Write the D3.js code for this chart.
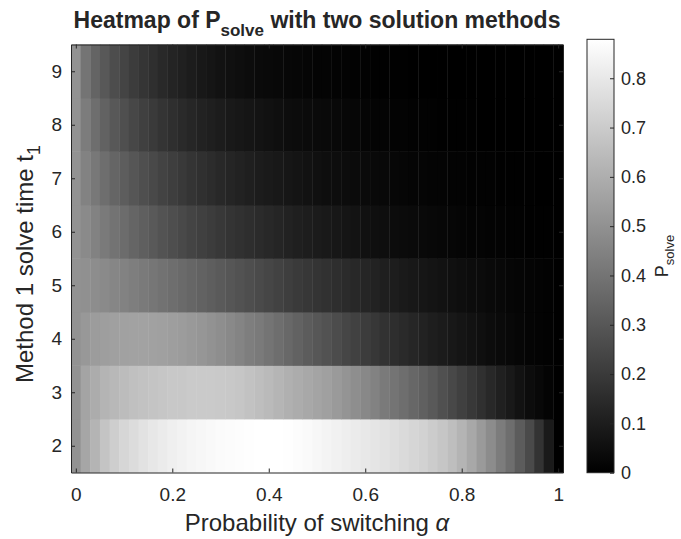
<!DOCTYPE html>
<html>
<head>
<meta charset="utf-8">
<script src="https://cdn.jsdelivr.net/npm/d3@7"></script>
<style>
  body { margin: 0; background: #fff; }
  svg text { font-family: "Liberation Sans", Arial, Helvetica, sans-serif; fill: #262626; }
</style>
</head>
<body>
<div id="chart"></div>
<script>
// switching probability (columns) and method 1 solve time (rows)
const alphaValues = [0, 0.02, 0.04, 0.06, 0.08, 0.1, 0.12, 0.14, 0.16, 0.18,
    0.2, 0.22, 0.24, 0.26, 0.28, 0.3, 0.32, 0.34, 0.36, 0.38,
    0.4, 0.42, 0.44, 0.46, 0.48, 0.5, 0.52, 0.54, 0.56, 0.58,
    0.6, 0.62, 0.64, 0.66, 0.68, 0.7, 0.72, 0.74, 0.76, 0.78,
    0.8, 0.82, 0.84, 0.86, 0.88, 0.9, 0.92, 0.94, 0.96, 0.98, 1];
const solveTimes = [2, 3, 4, 5, 6, 7, 8, 9];

// P_solve for each t1, one value per alpha
const pSolveT2 = [0.503, 0.572, 0.620, 0.676, 0.710, 0.738, 0.758, 0.779, 0.796, 0.810,
    0.824, 0.834, 0.845, 0.851, 0.858, 0.865, 0.869, 0.872, 0.876, 0.879,
    0.879, 0.879, 0.876, 0.869, 0.862, 0.851, 0.841, 0.831, 0.820, 0.810,
    0.800, 0.789, 0.779, 0.765, 0.751, 0.738, 0.724, 0.703, 0.683, 0.655,
    0.620, 0.579, 0.531, 0.483, 0.427, 0.379, 0.317, 0.255, 0.176, 0.090, 0];
const pSolveT3 = [0.503, 0.565, 0.593, 0.620, 0.634, 0.648, 0.662, 0.669, 0.676, 0.683,
    0.689, 0.689, 0.696, 0.696, 0.696, 0.693, 0.689, 0.683, 0.669, 0.655,
    0.641, 0.624, 0.607, 0.593, 0.579, 0.565, 0.552, 0.531, 0.510, 0.489,
    0.469, 0.448, 0.421, 0.400, 0.379, 0.355, 0.331, 0.307, 0.276, 0.248,
    0.221, 0.193, 0.165, 0.138, 0.110, 0.086, 0.062, 0.041, 0.028, 0.014, 0];
const pSolveT4 = [0.503, 0.524, 0.538, 0.545, 0.552, 0.555, 0.558, 0.558, 0.555, 0.552,
    0.545, 0.538, 0.527, 0.517, 0.503, 0.489, 0.472, 0.455, 0.434, 0.421,
    0.400, 0.379, 0.358, 0.338, 0.317, 0.300, 0.283, 0.262, 0.241, 0.224,
    0.207, 0.190, 0.172, 0.159, 0.145, 0.131, 0.117, 0.103, 0.093, 0.083,
    0.072, 0.062, 0.052, 0.041, 0.034, 0.028, 0.021, 0.014, 0.010, 0.007, 0];
const pSolveT5 = [0.503, 0.496, 0.486, 0.476, 0.462, 0.448, 0.434, 0.421, 0.407, 0.393,
    0.379, 0.365, 0.352, 0.338, 0.324, 0.310, 0.296, 0.283, 0.269, 0.255,
    0.241, 0.228, 0.214, 0.200, 0.190, 0.179, 0.169, 0.159, 0.148, 0.138,
    0.128, 0.117, 0.107, 0.100, 0.090, 0.083, 0.076, 0.069, 0.062, 0.055,
    0.048, 0.041, 0.038, 0.031, 0.028, 0.021, 0.017, 0.014, 0.010, 0.007, 0];
const pSolveT6 = [0.503, 0.476, 0.448, 0.421, 0.396, 0.372, 0.348, 0.327, 0.307, 0.286,
    0.269, 0.252, 0.234, 0.221, 0.207, 0.193, 0.179, 0.169, 0.159, 0.148,
    0.138, 0.128, 0.117, 0.107, 0.100, 0.093, 0.086, 0.079, 0.072, 0.065,
    0.059, 0.052, 0.048, 0.041, 0.038, 0.034, 0.031, 0.028, 0.024, 0.021,
    0.017, 0.014, 0.014, 0.010, 0.010, 0.007, 0.007, 0.003, 0.003, 0.003, 0];
const pSolveT7 = [0.503, 0.448, 0.414, 0.379, 0.348, 0.321, 0.296, 0.272, 0.252, 0.231,
    0.214, 0.196, 0.179, 0.165, 0.152, 0.138, 0.128, 0.117, 0.107, 0.097,
    0.090, 0.083, 0.076, 0.069, 0.062, 0.055, 0.048, 0.045, 0.041, 0.038,
    0.034, 0.031, 0.028, 0.024, 0.021, 0.017, 0.017, 0.014, 0.014, 0.010,
    0.010, 0.007, 0.007, 0.007, 0.003, 0.003, 0.003, 0.003, 0, 0, 0];
const pSolveT8 = [0.503, 0.427, 0.379, 0.338, 0.303, 0.272, 0.245, 0.221, 0.200, 0.179,
    0.162, 0.145, 0.131, 0.117, 0.107, 0.097, 0.086, 0.079, 0.072, 0.065,
    0.059, 0.052, 0.045, 0.041, 0.038, 0.034, 0.031, 0.028, 0.024, 0.021,
    0.017, 0.014, 0.014, 0.010, 0.010, 0.007, 0.007, 0.007, 0.003, 0.003,
    0.003, 0.003, 0, 0, 0, 0, 0, 0, 0, 0, 0];
const pSolveT9 = [0.503, 0.400, 0.345, 0.303, 0.265, 0.234, 0.207, 0.183, 0.162, 0.141,
    0.124, 0.110, 0.097, 0.083, 0.072, 0.062, 0.055, 0.048, 0.041, 0.034,
    0.031, 0.028, 0.024, 0.021, 0.017, 0.014, 0.014, 0.010, 0.010, 0.007,
    0.007, 0.003, 0.003, 0.003, 0.003, 0, 0, 0, 0, 0,
    0, 0, 0, 0, 0, 0, 0, 0, 0, 0, 0];

const xTicks = [0, 0.2, 0.4, 0.6, 0.8, 1];
const yTicks = [2, 3, 4, 5, 6, 7, 8, 9];
const colorbarTicks = [0, 0.1, 0.2, 0.3, 0.4, 0.5, 0.6, 0.7, 0.8];
const colorLimits = [0, 0.879];

class PSolveHeatmap {
    constructor(containerID, width, height) {
        this.containerID = containerID;
        this.width = width;
        this.height = height;
        this.rows = [pSolveT2, pSolveT3, pSolveT4, pSolveT5, pSolveT6, pSolveT7, pSolveT8, pSolveT9];

        this.initVis();
    }

    initVis() {
        let vis = this;

        vis.plot = { left: 71, right: 563, top: 44.5, bottom: 472.5 };
        vis.bar = { left: 587, right: 614, top: 39.3, bottom: 472.7 };

        vis.svg = d3.select(vis.containerID)
            .append('svg')
            .attr('width', vis.width)
            .attr('height', vis.height);

        // half a cell of padding on each side, like imagesc
        vis.xScale = d3.scaleLinear()
            .domain([-0.01, 1.01])
            .range([vis.plot.left, vis.plot.right]);

        vis.yScale = d3.scaleLinear()
            .domain([1.5, 9.5])
            .range([vis.plot.bottom, vis.plot.top]);

        vis.colorScale = d3.scaleLinear()
            .domain(colorLimits)
            .range(['#000000', '#ffffff'])
            .clamp(true);

        vis.updateVis();
    }

    updateVis() {
        let vis = this;

        let cells = [];
        vis.rows.forEach((row, i) => {
            row.forEach((p, j) => {
                cells.push({ t: solveTimes[i], alpha: alphaValues[j], p: p });
            });
        });

        // Draw cells
        vis.svg.append('g')
            .selectAll('rect')
            .data(cells)
            .join('rect')
            .attr('x', d => vis.xScale(d.alpha - 0.01))
            .attr('y', d => vis.yScale(d.t + 0.5))
            .attr('width', vis.xScale(0.02) - vis.xScale(0) + 0.4)
            .attr('height', vis.yScale(1.5) - vis.yScale(2.5) + 0.4)
            .attr('fill', d => vis.colorScale(d.p));

        // Axes on all four sides, ticks pointing in
        let xAxis = d3.axisBottom(vis.xScale).tickValues(xTicks)
            .tickSizeInner(-4).tickSizeOuter(0).tickPadding(15).tickFormat(d => String(d));
        let yAxis = d3.axisLeft(vis.yScale).tickValues(yTicks)
            .tickSizeInner(-4).tickSizeOuter(0).tickPadding(9);
        let xTop = d3.axisTop(vis.xScale).tickValues(xTicks)
            .tickSizeInner(-4).tickSizeOuter(0).tickFormat('');
        let yRight = d3.axisRight(vis.yScale).tickValues(yTicks)
            .tickSizeInner(-4).tickSizeOuter(0).tickFormat('');

        vis.svg.append('g').attr('class', 'axis')
            .attr('transform', `translate(0,${vis.plot.bottom})`).call(xAxis);
        vis.svg.append('g').attr('class', 'axis')
            .attr('transform', `translate(${vis.plot.left},0)`).call(yAxis);
        vis.svg.append('g').attr('class', 'axis')
            .attr('transform', `translate(0,${vis.plot.top})`).call(xTop);
        vis.svg.append('g').attr('class', 'axis')
            .attr('transform', `translate(${vis.plot.right},0)`).call(yRight);

        vis.svg.selectAll('.axis text').style('font-size', '19px').style('fill', '#262626');
        vis.svg.selectAll('.axis path, .axis line').attr('stroke', '#262626');

        // Colorbar
        let grad = vis.svg.append('defs').append('linearGradient')
            .attr('id', 'grey-grad')
            .attr('x1', 0).attr('y1', 1).attr('x2', 0).attr('y2', 0);
        grad.append('stop').attr('offset', 0).attr('stop-color', vis.colorScale(colorLimits[0]));
        grad.append('stop').attr('offset', 1).attr('stop-color', vis.colorScale(colorLimits[1]));

        vis.cScale = d3.scaleLinear()
            .domain(colorLimits)
            .range([vis.bar.bottom, vis.bar.top]);

        vis.svg.append('rect')
            .attr('x', vis.bar.left)
            .attr('y', vis.bar.top)
            .attr('width', vis.bar.right - vis.bar.left)
            .attr('height', vis.bar.bottom - vis.bar.top)
            .attr('fill', 'url(#grey-grad)')
            .attr('stroke', '#262626')
            .attr('stroke-width', 1);

        let cAxis = d3.axisRight(vis.cScale).tickValues(colorbarTicks)
            .tickSizeInner(-4).tickSizeOuter(0).tickPadding(7).tickFormat(d => String(d));
        let cg = vis.svg.append('g')
            .attr('transform', `translate(${vis.bar.right},0)`)
            .call(cAxis);
        cg.select('.domain').remove();
        cg.selectAll('line').attr('stroke', '#262626');
        cg.selectAll('text').style('font-size', '18px').style('fill', '#262626');

        // Title and labels
        let title = vis.svg.append('text')
            .attr('x', (vis.plot.left + vis.plot.right) / 2)
            .attr('y', 28)
            .attr('text-anchor', 'middle')
            .style('font-size', '23px')
            .style('font-weight', 'bold');
        title.append('tspan').text('Heatmap of P');
        title.append('tspan').attr('dy', 8).style('font-size', '17px').text('solve');
        title.append('tspan').attr('dy', -8).text(' with two solution methods');

        let xLabel = vis.svg.append('text')
            .attr('x', (vis.plot.left + vis.plot.right) / 2)
            .attr('y', 531)
            .attr('text-anchor', 'middle')
            .style('font-size', '24px');
        xLabel.append('tspan').text('Probability of switching ');
        xLabel.append('tspan').style('font-style', 'italic').text('α');

        let yLabel = vis.svg.append('text')
            .attr('transform', `translate(33,264) rotate(-90)`)
            .attr('text-anchor', 'middle')
            .style('font-size', '24px');
        yLabel.append('tspan').text('Method 1 solve time t');
        yLabel.append('tspan').attr('dy', 7).style('font-size', '18px').text('1');

        let cLabel = vis.svg.append('text')
            .attr('transform', `translate(668,${(vis.bar.top + vis.bar.bottom) / 2}) rotate(-90)`)
            .attr('text-anchor', 'middle')
            .style('font-size', '18px');
        cLabel.append('tspan').text('P');
        cLabel.append('tspan').attr('dy', 6).style('font-size', '13px').text('solve');
    }
}

new PSolveHeatmap('#chart', 681, 539);
</script>
</body>
</html>
